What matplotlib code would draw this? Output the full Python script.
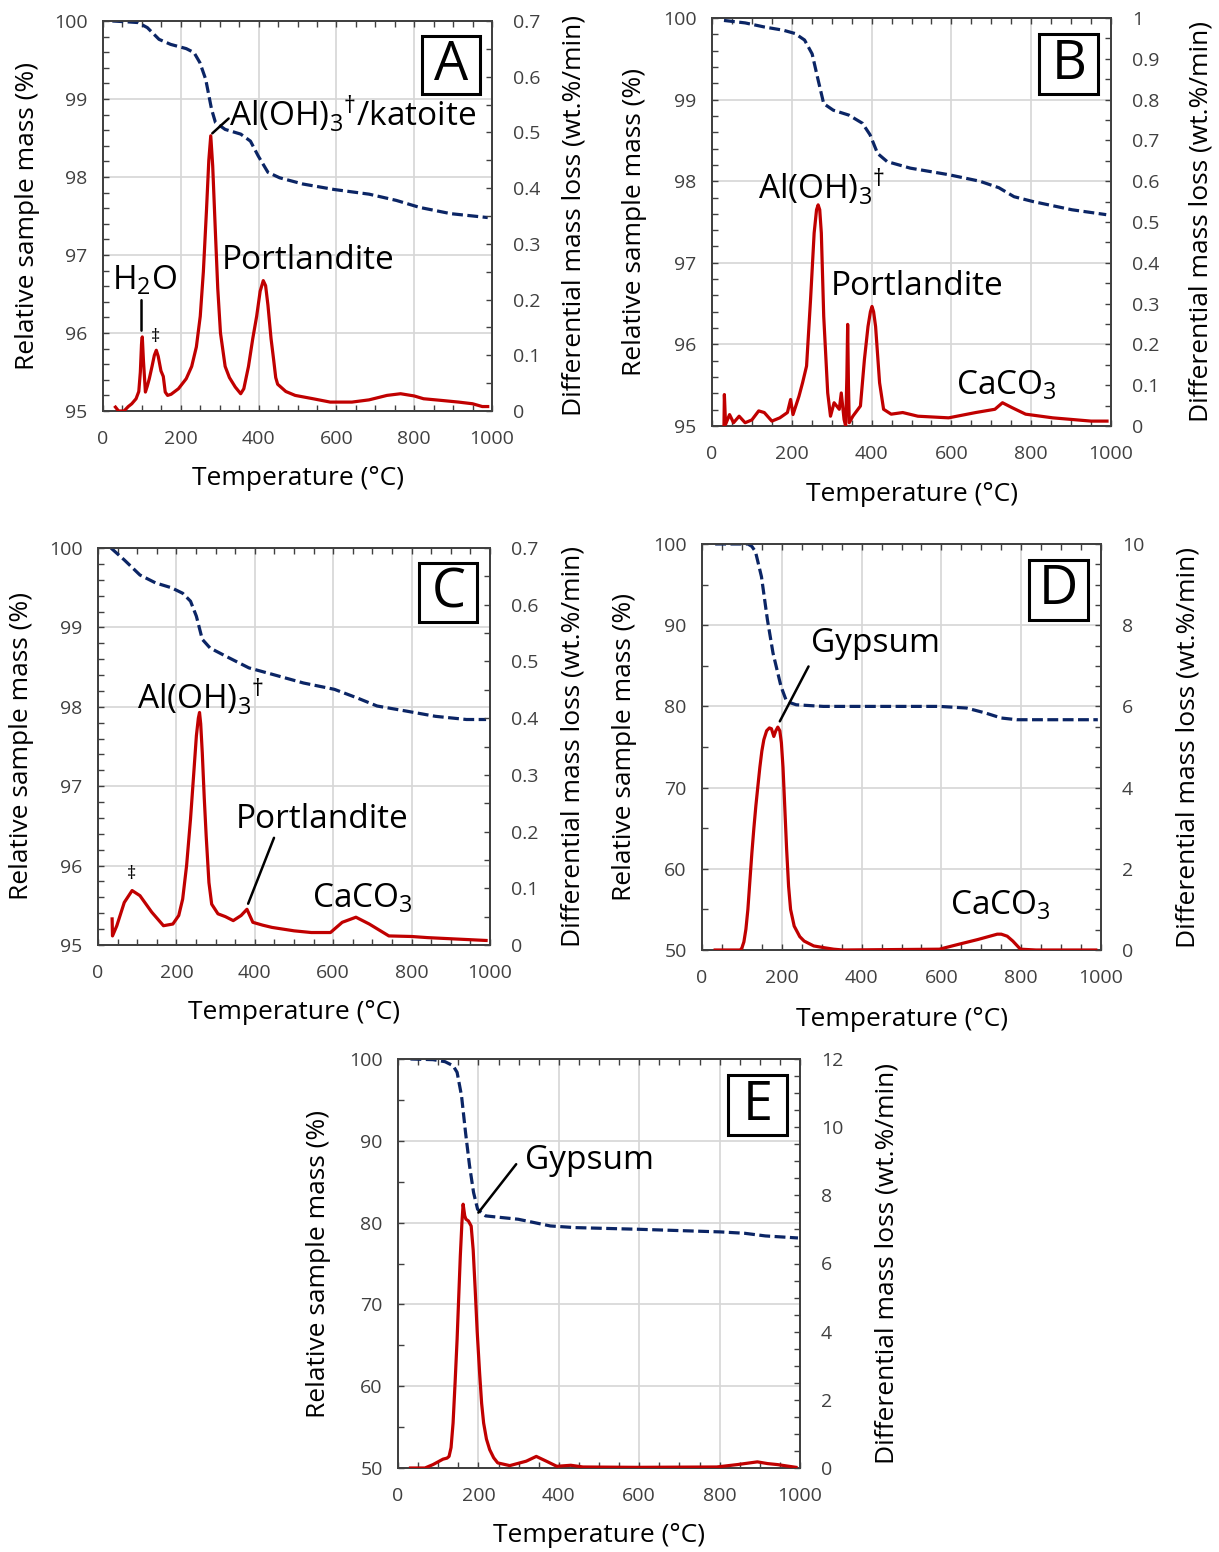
import matplotlib
matplotlib.use("Agg")
import matplotlib.pyplot as plt
from matplotlib.ticker import MultipleLocator, FuncFormatter
from matplotlib.patches import Rectangle

plt.rcParams['font.family'] = ['Open Sans', 'DejaVu Sans']
plt.rcParams['mathtext.fontset'] = 'custom'
plt.rcParams['mathtext.rm'] = 'Open Sans'
plt.rcParams['mathtext.it'] = 'Open Sans:italic'
plt.rcParams['mathtext.bf'] = 'Open Sans:bold'

RED = '#C00000'
BLUE = '#0B2565'
GRID = '#D6D6D6'
TICK = '#404040'

# ---- panel A ----
a_tg_t = [24, 60, 90, 114, 144, 174, 214, 234, 249, 264, 279, 289, 314, 354, 379, 399, 424, 454,
          514, 594, 684, 754, 814, 894, 989]
a_tg = [100.0, 99.99, 99.98, 99.915, 99.765, 99.70, 99.646, 99.595, 99.467, 99.253, 98.87, 98.70,
        98.61, 98.55, 98.46, 98.27, 98.06, 97.99, 97.91, 97.84, 97.78, 97.70, 97.61, 97.53, 97.48]
a_dtg_t = [32, 40, 54, 65, 74, 85, 92, 96, 99, 101, 104, 109, 114, 119, 126, 132, 137, 142, 149,
           155, 160, 166, 175, 194, 214, 228, 240, 250, 258, 266, 272, 277, 282, 289, 295, 302,
           314, 325, 340, 354, 362, 374, 385, 395, 404, 412, 418, 424, 432, 439, 444, 449, 470,
           494, 540, 584, 640, 684, 730, 765, 800, 824, 870, 914, 950, 975, 989]
a_dtg = [0.007, 0.0, 0.0, 0.008, 0.013, 0.022, 0.035, 0.07, 0.12, 0.133, 0.09, 0.034, 0.045,
         0.058, 0.08, 0.1, 0.109, 0.098, 0.072, 0.062, 0.034, 0.028, 0.03, 0.04, 0.058, 0.08,
         0.115, 0.17, 0.25, 0.36, 0.45, 0.494, 0.44, 0.32, 0.22, 0.14, 0.08, 0.06, 0.043, 0.031,
         0.04, 0.08, 0.13, 0.17, 0.215, 0.234, 0.225, 0.19, 0.13, 0.09, 0.06, 0.048, 0.035,
         0.028, 0.022, 0.016, 0.016, 0.02, 0.028, 0.031, 0.027, 0.022, 0.019, 0.016, 0.013,
         0.008, 0.008]

# ---- panel B ----
b_tg_t = [30, 83, 131, 179, 208, 232, 251, 266, 280, 304, 343, 377, 396, 415, 439, 497, 593,
          671, 719, 757, 805, 902, 988]
b_tg = [99.97, 99.94, 99.89, 99.85, 99.81, 99.73, 99.56, 99.24, 98.95, 98.87, 98.81, 98.71,
        98.57, 98.34, 98.24, 98.16, 98.08, 98.0, 97.92, 97.81, 97.75, 97.65, 97.59]
b_dtg_t = [30, 31, 34, 44, 54, 68, 83, 100, 117, 131, 150, 170, 189, 197, 203, 218, 227, 237,
           247, 256, 262, 266, 270, 274, 280, 290, 297, 306, 319, 324, 331, 335, 338, 340, 342,
           344, 353, 372, 382, 391, 397, 401, 405, 410, 420, 430, 449, 478, 516, 593, 661, 709,
           728, 752, 786, 854, 950, 990]
b_dtg = [0.0, 0.077, 0.004, 0.028, 0.008, 0.024, 0.008, 0.015, 0.037, 0.033, 0.012, 0.020,
         0.033, 0.065, 0.028, 0.073, 0.106, 0.147, 0.310, 0.473, 0.53, 0.542, 0.53, 0.473,
         0.269, 0.081, 0.024, 0.057, 0.041, 0.081, 0.016, 0.0, 0.12, 0.249, 0.10, 0.008, 0.024,
         0.049, 0.163, 0.244, 0.28, 0.293, 0.28, 0.244, 0.106, 0.041, 0.029, 0.033, 0.024,
         0.020, 0.033, 0.041, 0.057, 0.045, 0.029, 0.020, 0.012, 0.012]

# ---- panel C ----
c_tg_t = [33, 67, 107, 147, 187, 216, 236, 251, 266, 286, 325, 385, 444, 524, 603, 662, 712,
          782, 861, 940, 990]
c_tg = [100.0, 99.85, 99.66, 99.56, 99.50, 99.43, 99.33, 99.14, 98.85, 98.74, 98.64, 98.49,
        98.41, 98.30, 98.22, 98.11, 98.01, 97.95, 97.88, 97.84, 97.84]
c_dtg_t = [36, 37, 48, 67, 87, 107, 137, 167, 191, 206, 216, 226, 236, 244, 251, 256, 259, 262,
           266, 271, 276, 283, 290, 306, 325, 345, 365, 380, 395, 420, 444, 500, 544, 593, 623,
           658, 692, 742, 800, 841, 900, 990]
c_dtg = [0.046, 0.016, 0.034, 0.075, 0.096, 0.087, 0.058, 0.034, 0.037, 0.052, 0.081, 0.14,
         0.222, 0.30, 0.369, 0.40, 0.41, 0.39, 0.339, 0.26, 0.192, 0.11, 0.072, 0.055, 0.05,
         0.043, 0.052, 0.063, 0.040, 0.035, 0.031, 0.025, 0.022, 0.022, 0.040, 0.049, 0.037,
         0.016, 0.015, 0.013, 0.011, 0.008]

# ---- panel D ----
d_tg_t = [33, 115, 125, 134, 149, 164, 178, 198, 212, 236, 304, 450, 595, 663, 711, 750, 789,
          992]
d_tg = [100.0, 100.0, 99.7, 99.06, 95.98, 90.66, 86.56, 82.46, 80.61, 80.20, 80.0, 80.0, 80.0,
        79.8, 79.18, 78.57, 78.36, 78.36]
d_dtg_t = [33, 96, 100, 105, 110, 115, 120, 125, 130, 135, 140, 145, 150, 155, 162, 169, 174,
           180, 185, 190, 195, 199, 203, 207, 212, 217, 222, 231, 245, 256, 280, 304, 330, 353,
           595, 643, 692, 740, 750, 765, 779, 798, 837, 987]
d_dtg = [0.0, 0.0, 0.05, 0.2, 0.51, 1.0, 1.7, 2.39, 3.0, 3.55, 4.03, 4.5, 4.9, 5.18, 5.4, 5.47,
         5.45, 5.26, 5.4, 5.49, 5.4, 5.1, 4.5, 3.62, 2.5, 1.57, 1.0, 0.59, 0.33, 0.22, 0.1, 0.06,
         0.02, 0.0, 0.02, 0.14, 0.26, 0.39, 0.39, 0.34, 0.22, 0.02, 0.0, 0.0]

# ---- panel E ----
e_tg_t = [31, 87, 117, 137, 147, 158, 168, 178, 188, 198, 218, 299, 339, 379, 440, 601, 803,
          863, 914, 995]
e_tg = [100.0, 99.92, 99.67, 99.18, 98.37, 95.51, 91.02, 86.94, 83.67, 81.63, 80.82, 80.41,
        80.0, 79.59, 79.39, 79.18, 78.86, 78.69, 78.37, 78.12]
e_dtg_t = [31, 67, 87, 112, 122, 127, 132, 137, 142, 147, 151, 155, 159, 162, 166, 169, 175,
           182, 187, 192, 197, 203, 208, 213, 220, 228, 238, 248, 278, 319, 344, 369, 395, 430,
           460, 591, 793, 844, 894, 919, 944, 990]
e_dtg = [0.0, 0.0, 0.1, 0.26, 0.29, 0.34, 0.6, 1.32, 2.5, 3.77, 5.0, 6.22, 7.2, 7.74, 7.4,
         7.30, 7.25, 7.10, 6.4, 5.24, 4.0, 2.79, 1.9, 1.32, 0.85, 0.54, 0.3, 0.15, 0.07, 0.20,
         0.34, 0.20, 0.05, 0.08, 0.03, 0.02, 0.03, 0.1, 0.18, 0.13, 0.1, 0.02]

FIG_W, FIG_H = 1219, 1552
fig = plt.figure(figsize=(FIG_W / 100, FIG_H / 100), dpi=100)

fmt = FuncFormatter(lambda v, p: f'{v:g}')


def panel(px, tg_t, tg, dtg_t, dtg, ylim, ymaj, ymin, rlim, rmaj, rmin, letter, labx):
    x0, y0, x1, y1 = px
    rect = [x0 / FIG_W, 1 - y1 / FIG_H, (x1 - x0) / FIG_W, (y1 - y0) / FIG_H]
    ax = fig.add_axes(rect)
    ax2 = ax.twinx()
    ax.set_xlim(0, 1000)
    ax.set_ylim(*ylim)
    ax2.set_ylim(*rlim)
    ax.xaxis.set_major_locator(MultipleLocator(200))
    ax.xaxis.set_minor_locator(MultipleLocator(50))
    ax.yaxis.set_major_locator(MultipleLocator(ymaj))
    ax.yaxis.set_minor_locator(MultipleLocator(ymin))
    ax2.yaxis.set_major_locator(MultipleLocator(rmaj))
    ax2.yaxis.set_minor_locator(MultipleLocator(rmin))
    for a in (ax, ax2):
        a.xaxis.set_major_formatter(fmt)
        a.yaxis.set_major_formatter(fmt)
        for s in a.spines.values():
            s.set_color('#404040')
            s.set_linewidth(1.3)
    ax.grid(True, which='major', color=GRID, lw=1.2)
    ax.set_axisbelow(True)
    ax.tick_params(axis='x', which='both', direction='in', top=True, bottom=True,
                   length=4, width=1, color='#404040', labelsize=14, labelcolor=TICK, pad=14)
    ax.tick_params(axis='y', which='both', direction='in', left=True, right=False,
                   length=4, width=1, color='#404040', labelsize=14, labelcolor=TICK, pad=11)
    ax2.tick_params(axis='y', which='both', direction='in', length=4, width=1,
                    color='#404040', labelsize=14, labelcolor=TICK, pad=15)

    ax.plot(tg_t, tg, color=BLUE, lw=2.3, dashes=(3.4, 1.4), zorder=3)
    ax2.plot(dtg_t, dtg, color=RED, lw=2.3, zorder=3)

    ax.set_xlabel('Temperature (°C)', fontsize=19, va='center')
    ax.set_ylabel('Relative sample mass (%)', fontsize=19, va='center')
    ax2.set_ylabel('Differential mass loss (wt.%/min)', fontsize=19, va='center')
    lx, rx, by = labx
    ax.xaxis.set_label_coords(0.5, by)
    ax.yaxis.set_label_coords(lx, 0.5)
    ax2.yaxis.set_label_coords(rx, 0.5)

    ax2.add_patch(Rectangle((0.82, 0.814), 0.148, 0.147, transform=ax2.transAxes,
                            fc='white', ec='black', lw=2.2, zorder=6))
    ax2.text(0.894, 0.887, letter, transform=ax2.transAxes, ha='center', va='center',
             fontsize=39, zorder=7)
    return ax, ax2


def note(ax, ax2, x, y, s, size=24, **kw):
    ax2.text(x, y, s, transform=ax.transData, fontsize=size, va='center', ha='left',
             zorder=8, **kw)


def leader(ax, ax2, p0, p1):
    ax2.annotate('', xy=p1, xytext=p0, xycoords=ax.transData, textcoords=ax.transData,
                 arrowprops=dict(arrowstyle='-', color='black', lw=1.8, shrinkA=0, shrinkB=0),
                 zorder=8)


# A
ax, ax2 = panel((103, 21, 492, 411), a_tg_t, a_tg, a_dtg_t, a_dtg, (95, 100), 1, 0.2,
                (0, 0.7), 0.1, 0.05, 'A', (-0.195, 1.212, -0.172))
note(ax, ax2, 22, 96.67, r'H$_2$O')
leader(ax, ax2, (99, 96.42), (99, 96.03))
ax2.text(134, 95.95, '‡', transform=ax.transData, fontsize=13, ha='center', va='center',
         family=['Open Sans', 'DejaVu Sans'])
note(ax, ax2, 325, 98.81, r'Al(OH)$_3$$^{\dag}$/katoite')
leader(ax, ax2, (281, 98.56), (323, 98.75))
note(ax, ax2, 305, 96.93, 'Portlandite')

# B
ax, ax2 = panel((712, 18, 1111, 426), b_tg_t, b_tg, b_dtg_t, b_dtg, (95, 100), 1, 0.2,
                (0, 1), 0.1, 0.05, 'B', (-0.193, 1.226, -0.167))
note(ax, ax2, 115, 97.93, r'Al(OH)$_3$$^{\dag}$')
note(ax, ax2, 298, 96.71, 'Portlandite')
note(ax, ax2, 611, 95.49, r'CaCO$_3$')

# C
ax, ax2 = panel((98, 548, 490, 945), c_tg_t, c_tg, c_dtg_t, c_dtg, (95, 100), 1, 0.2,
                (0, 0.7), 0.1, 0.05, 'C', (-0.194, 1.212, -0.171))
note(ax, ax2, 100, 98.13, r'Al(OH)$_3$$^{\dag}$')
ax2.text(85, 95.89, '‡', transform=ax.transData, fontsize=13, ha='center', va='center',
         family=['Open Sans', 'DejaVu Sans'])
note(ax, ax2, 351, 96.58, 'Portlandite')
leader(ax, ax2, (449, 96.35), (383, 95.52))
note(ax, ax2, 547, 95.58, r'CaCO$_3$')

# D
ax, ax2 = panel((702, 544, 1101, 950), d_tg_t, d_tg, d_dtg_t, d_dtg, (50, 100), 10, 5,
                (0, 10), 2, 0.5, 'D', (-0.195, 1.218, -0.172))
note(ax, ax2, 273, 87.79, 'Gypsum')
leader(ax, ax2, (267, 84.92), (195, 78.16))
note(ax, ax2, 622, 55.41, r'CaCO$_3$')

# E
ax, ax2 = panel((398, 1059, 800, 1468), e_tg_t, e_tg, e_dtg_t, e_dtg, (50, 100), 10, 5,
                (0, 12), 2, 0.5, 'E', (-0.199, 1.216, -0.164))
note(ax, ax2, 315, 87.55, 'Gypsum')
leader(ax, ax2, (294, 87.14), (200, 81.22))

fig.savefig('out.png', dpi=100)
